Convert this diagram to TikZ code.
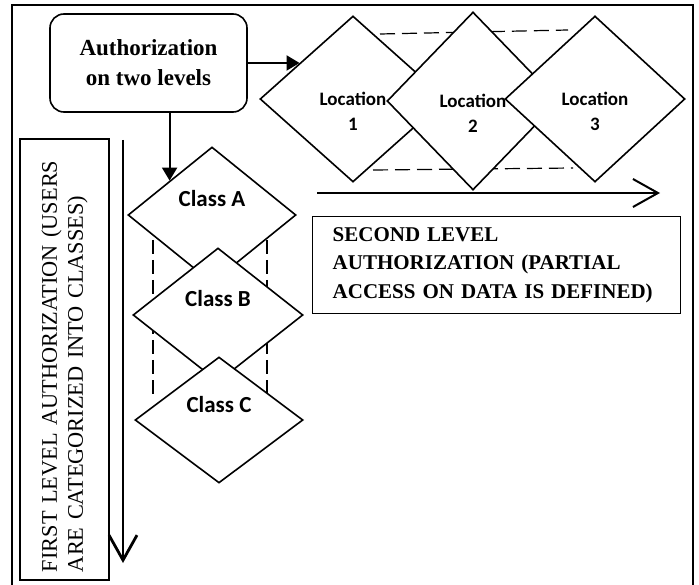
\documentclass[tikz,border=0pt]{standalone}
\usepackage{fontspec}
\setmainfont{Liberation Serif}
\newfontfamily\calibri{Carlito}
\usetikzlibrary{shapes.geometric,arrows.meta}

\tikzset{
  shapeline/.style={draw, line width=1.6pt},
  locbox/.style={diamond, shapeline, fill=white, inner sep=0pt, align=center,
    text height=64pt, text depth=0pt,
    font=\calibri\bfseries\fontsize{19}{25}\selectfont},
  classbox/.style={diamond, shapeline, fill=white, inner sep=0pt,
    text height=15pt, text depth=31pt,
    font=\calibri\bfseries\fontsize{23}{25}\selectfont},
  guide/.style={line width=1.2pt, dash pattern=on 15pt off 7pt},
  feed/.style={line width=2pt, -{Triangle[length=13pt,width=15pt]}},
  levelarrow/.style={line width=2pt, -{Straight Barb[length=25pt,width=28pt]}},
  textbox/.style={draw, line width=1.4pt, align=left},
}

\begin{document}
\begin{tikzpicture}[x=1pt,y=-1pt]
            \useasboundingbox (0,0) rectangle (699,585);
            \draw[line width=1.6pt] (12,595) -- (12,5) -- (693,5) -- (693,595);
            % dashed guides behind the diamonds
            \draw[guide] (380,34) -- (568,30);
            \draw[guide] (373,170) -- (573,168);
            \draw[guide, dash pattern=on 14pt off 6pt] (153,240) -- (153,397);
            \draw[guide, dash pattern=on 14pt off 6pt] (267,240) -- (267,397);

            \node[shapeline, rounded corners=14pt, minimum width=197pt, minimum height=98pt,
                align=center, font=\bfseries\fontsize{23}{30}\selectfont]
                (auth) at (148.5,63) {Authorization\\on two levels};

            \node[locbox, minimum width=186pt, minimum height=166pt] (loc1) at (353,99) {Location\\1};
            \node[locbox, minimum width=172pt, minimum height=178pt] (loc2) at (473,101) {Location\\2};
            \node[locbox, minimum width=180pt, minimum height=166pt] (loc3) at (595,99) {Location\\3};

            \node[classbox, minimum width=168pt, minimum height=136pt] (clsA) at (212,215) {Class A};
            \node[classbox, minimum width=170pt, minimum height=134pt] (clsB) at (218,315) {Class B};
            \node[classbox, minimum width=168pt, minimum height=126pt] (clsC) at (219,420) {Class C};

            \draw[feed] (auth.east) -- (auth.east -| loc1.146);
            \draw[feed] (auth.south -| clsA.north west) -- (clsA.north west);

            \coordinate (firsttop) at (123,140);
            \coordinate (firsttip) at (123,563);
            \draw[levelarrow, line width=2.8pt] (firsttop) -- (firsttip);
            \coordinate (secondtail) at (317,193);
            \coordinate (secondtip) at (660,193);
            \draw[levelarrow] (secondtail) -- (secondtip);

            \node[textbox, rotate=90, minimum width=441pt, minimum height=89pt, text width=425pt,
                inner xsep=8pt, font=\fontsize{22.3}{26}\selectfont]
                (first) at (64.5,359.5) {FIRST LEVEL AUTHORIZATION (USERS\\ARE CATEGORIZED INTO CLASSES)};
            \node[textbox, anchor=north west, minimum height=97pt, text width=328pt,
                inner xsep=20pt, font=\bfseries\fontsize{21}{28.5}\selectfont]
                (second) at (312,216) {SECOND LEVEL\\AUTHORIZATION (PARTIAL\\ACCESS ON DATA IS DEFINED)};
        \end{tikzpicture}
\end{document}
